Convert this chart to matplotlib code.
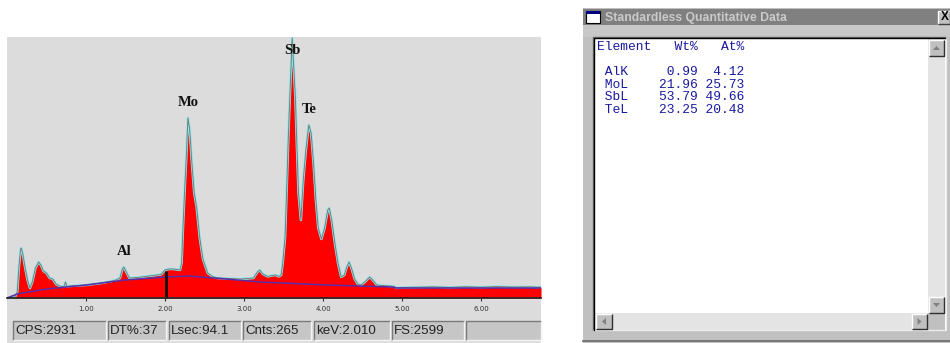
import matplotlib
matplotlib.use("Agg")
import matplotlib.pyplot as plt
from matplotlib.patches import Rectangle, Polygon

# EDS spectrum trace: energy (keV) and counts per channel
spec_kev = [0.00, 0.10, 0.13, 0.15, 0.17, 0.18, 0.20, 0.23, 0.26, 0.29,
            0.32, 0.36, 0.40, 0.43, 0.46, 0.50, 0.54, 0.58, 0.62, 0.67,
            0.72, 0.74, 0.76, 0.80, 0.90, 1.00, 1.10, 1.20, 1.30, 1.38,
            1.43, 1.46, 1.48, 1.51, 1.55, 1.65, 1.75, 1.85, 1.95, 2.00,
            2.05, 2.10, 2.15, 2.19, 2.21, 2.23, 2.25, 2.27, 2.29, 2.31,
            2.32, 2.34, 2.37, 2.40, 2.44, 2.48, 2.54, 2.60, 2.66, 2.80,
            2.95, 3.05, 3.12, 3.17, 3.20, 3.24, 3.30, 3.35, 3.40, 3.44,
            3.47, 3.49, 3.52, 3.54, 3.56, 3.58, 3.61, 3.63, 3.65, 3.67,
            3.69, 3.72, 3.75, 3.78, 3.80, 3.82, 3.85, 3.88, 3.91, 3.94,
            3.98, 4.02, 4.06, 4.08, 4.11, 4.15, 4.19, 4.23, 4.27, 4.30,
            4.33, 4.36, 4.40, 4.44, 4.48, 4.53, 4.59, 4.63, 4.68, 4.75,
            4.85, 4.90, 4.93, 5.00, 5.20, 5.40, 5.60, 5.80, 6.00, 6.20,
            6.40, 6.60, 6.76]
spec_cts = [0, 10, 60, 300, 480, 500, 440, 300, 180, 100,
            160, 300, 360, 330, 270, 250, 200, 190, 140, 120,
            110, 160, 115, 120, 125, 130, 140, 150, 165, 180,
            200, 290, 310, 260, 200, 205, 215, 225, 235, 280,
            290, 290, 285, 280, 350, 750, 1100, 1410, 1800, 1700,
            1600, 1350, 1050, 910, 600, 390, 250, 215, 200, 195,
            190, 195, 200, 260, 280, 240, 215, 225, 230, 215,
            230, 350, 610, 1080, 1580, 2010, 2599, 2300, 2010, 1510,
            1050, 780, 1180, 1450, 1600, 1730, 1650, 1350, 980, 700,
            590, 700, 880, 900, 780, 550, 350, 210, 230, 310,
            360, 300, 190, 140, 130, 160, 210, 180, 130, 125,
            120, 115, 100, 105, 108, 112, 106, 113, 108, 115,
            110, 112, 108]

# fitted background
bkg_kev = [0.00, 0.13, 0.50, 1.00, 1.50, 2.00, 2.30, 2.70, 3.20, 4.05,
           4.88, 4.92, 6.76]
bkg_cts = [0, 40, 90, 130, 180, 210, 220, 195, 160, 130,
           110, 100, 100]

peak_names = ["Al", "Mo", "Sb", "Te"]
peak_kev = [1.48, 2.29, 3.61, 3.82]
peak_cts = [310, 1800, 2599, 1730]

cursor_kev = 2.010
cursor_cts = 265
full_scale = 2599
kev_ticks = [1, 2, 3, 4, 5, 6]

status_items = ["CPS:2931", "DT%:37", "Lsec:94.1", "Cnts:265",
                "keV:2.010", "FS:2599", ""]

elements = ["AlK", "MoL", "SbL", "TeL"]
wt_pct = [0.99, 21.96, 53.79, 23.25]
at_pct = [4.12, 25.73, 49.66, 20.48]

W, H = 950, 343
fig = plt.figure(figsize=(W / 100, H / 100), dpi=100)
fig.patch.set_facecolor("white")

# pixel-space layer for the window chrome
ui = fig.add_axes([0, 0, 1, 1])
ui.set_xlim(0, W)
ui.set_ylim(H, 0)
ui.axis("off")


def box(x0, y0, x1, y1, fc, ec="none", lw=0, z=1):
    ui.add_patch(Rectangle((x0, y0), x1 - x0, y1 - y0, facecolor=fc,
                           edgecolor=ec, linewidth=lw, zorder=z))


def bevel(x0, y0, x1, y1, light, dark, z=3):
    ui.plot([x0, x0, x1], [y1, y0, y0], color=light, lw=1, zorder=z,
            solid_capstyle="butt")
    ui.plot([x0, x1, x1], [y1, y1, y0], color=dark, lw=1, zorder=z,
            solid_capstyle="butt")


# ---- spectrum panel ----
px0, px1, py0, py1 = 7, 541, 37, 318
ax = fig.add_axes([px0 / W, 1 - py1 / H, (px1 - px0) / W, (py1 - py0) / H])
ax.set_facecolor("#dcdcdc")
ax.set_xlim(0, (px1 - px0) / 79.0)
ax.set_ylim(-200, full_scale * 1.004)

ax.fill_between(spec_kev, 0, spec_cts, color="#ff0000", lw=0, zorder=2)
ax.plot(spec_kev, spec_cts, color="#8ae8ec", lw=1.8, zorder=3)
ax.plot(spec_kev, spec_cts, color="#7c7c7c", lw=0.7, zorder=4)
ax.plot(bkg_kev, bkg_cts, color="#5a2ca8", lw=1.1, zorder=5)
ax.vlines(cursor_kev, 0, cursor_cts, color="#111111", lw=2, zorder=6)

for name, k, c in zip(peak_names, peak_kev, peak_cts):
    dy = -12 if name == "Sb" else 9
    ax.annotate(name, (k, c), xytext=(0, dy), textcoords="offset pixels",
                ha="center", va="bottom" if dy > 0 else "center",
                fontsize=10.5, fontweight="bold", family="Liberation Serif",
                color="#111111", zorder=7)

for side in ["top", "left", "right"]:
    ax.spines[side].set_visible(False)
ax.spines["bottom"].set_position(("data", 0))
ax.spines["bottom"].set_color("#222222")
ax.spines["bottom"].set_linewidth(1.2)
ax.spines["bottom"].set_zorder(6)
ax.set_xticks(kev_ticks)
ax.set_xticklabels([f"{t:.2f}" for t in kev_ticks])
ax.tick_params(axis="x", direction="out", length=2.5, width=0.8,
               color="#333333", labelsize=5, labelcolor="#333333", pad=3)
ax.set_yticks([])

# ---- status bar ----
box(7, 318, 541, 343, "#dcdcdc", z=0)
edges = [13, 106, 108, 166, 169, 241, 243, 311, 314, 390, 392, 464, 466, 541]
for i, label in enumerate(status_items):
    x0, x1 = edges[2 * i], edges[2 * i + 1]
    box(x0, 321, x1, 340, "#c6c6c6", z=2)
    bevel(x0, 321, x1, 340, "#7a7a7a", "#f4f4f4")
    ui.text(x0 + 2, 331, label, ha="left", va="center", fontsize=9.6,
            family="Liberation Sans", color="#222222", zorder=4)

# ---- quantitative results window ----
box(583, 8, 950, 343, "#c0c0c0", z=0)
box(583, 9, 950, 25, "#808080", z=1)
box(583, 25, 950, 37, "#c8c8c8", z=1)
ui.plot([583, 950], [341, 341], color="#6a6a6a", lw=1.2, zorder=2)

# title bar icon and close button
box(586, 11, 600, 23, "white", ec="black", lw=0.8, z=2)
box(586, 11, 600, 14, "#000080", z=3)
ui.text(605, 17.5, "Standardless Quantitative Data", ha="left", va="center",
        fontsize=8.8, fontweight="bold", family="Liberation Sans",
        color="#cacaca", zorder=3)
box(938, 11, 950, 24, "#c0c0c0", z=2)
bevel(938, 11, 950, 24, "white", "#404040")
ui.text(945, 17.5, "X", ha="center", va="center", fontsize=8.5,
        fontweight="bold", family="Liberation Sans", color="black", zorder=4)

# text area with scrollbars
box(594, 37, 946, 330, "white", z=1)
bevel(593, 37, 946, 330, "#6a6a6a", "#ececec")
ui.plot([594, 594, 945], [330, 38, 38], color="black", lw=1, zorder=3)
box(928, 39, 945, 313, "#e4e4e4", z=2)
box(595, 313, 928, 330, "#e4e4e4", z=2)
box(928, 313, 945, 330, "#c0c0c0", z=2)

buttons = [(929, 40, 944, 56, "up"), (929, 297, 944, 313, "down"),
           (596, 314, 612, 329, "left"), (912, 314, 927, 329, "right")]
for x0, y0, x1, y1, d in buttons:
    box(x0, y0, x1, y1, "#c0c0c0", z=3)
    bevel(x0, y0, x1, y1, "white", "#303030", z=4)
    cx, cy = (x0 + x1) / 2, (y0 + y1) / 2
    tri = {"up": [(cx - 3.5, cy + 2), (cx + 3.5, cy + 2), (cx, cy - 2)],
           "down": [(cx - 3.5, cy - 2), (cx + 3.5, cy - 2), (cx, cy + 2)],
           "left": [(cx + 2, cy - 3.5), (cx + 2, cy + 3.5), (cx - 2, cy)],
           "right": [(cx - 2, cy - 3.5), (cx - 2, cy + 3.5), (cx + 2, cy)]}[d]
    ui.add_patch(Polygon(tri, closed=True, facecolor="#808080",
                         edgecolor="none", zorder=5))

# fixed-width report text, one string per line
mono = dict(family="Liberation Mono", fontsize=9.4, color="#1a1aa0",
            va="center", ha="left", zorder=4)
ui.text(597, 47, "Element   Wt%   At%", **mono)
for i, (el, w, a) in enumerate(zip(elements, wt_pct, at_pct)):
    ui.text(597, 72 + i * 12.7, f" {el}   {w:6.2f}{a:6.2f}", **mono)

fig.savefig("out.png", dpi=100)
